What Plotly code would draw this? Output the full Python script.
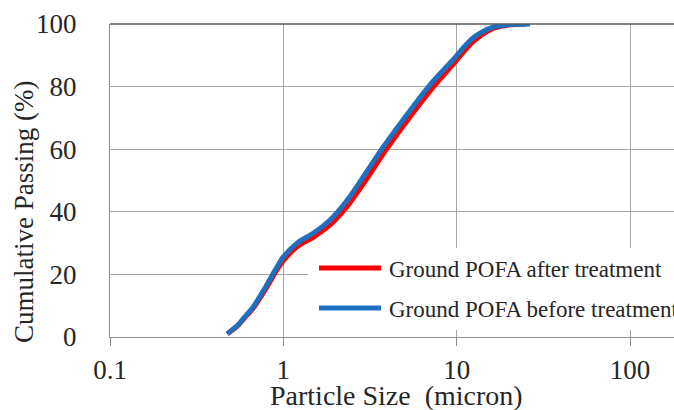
import plotly.graph_objects as go

# Particle size (micron)
size_before = [0.475, 0.55, 0.6, 0.67, 0.79, 0.92, 1.0, 1.2, 1.5, 1.86, 2.34, 3.0, 3.77, 5.0, 7.0, 9.5, 12.4, 16.2, 20.0, 26.5]
pass_before = [1.0, 4.0, 6.5, 9.6, 16.0, 22.4, 25.6, 30.0, 33.3, 37.4, 43.8, 52.5, 60.7, 70.0, 80.5, 88.5, 95.5, 99.0, 99.8, 100.0]

size_after = [0.475, 0.55, 0.6, 0.67, 0.79, 0.92, 1.0, 1.2, 1.5, 1.86, 2.34, 3.0, 3.77, 5.0, 7.0, 9.5, 12.4, 16.2, 20.0, 25.0]
pass_after = [1.0, 3.8, 6.2, 9.2, 15.3, 21.5, 24.4, 28.8, 32.0, 35.8, 41.8, 50.2, 58.5, 68.0, 78.5, 87.0, 94.3, 98.6, 99.7, 100.0]

series_names = ["Ground POFA after treatment", "Ground POFA before treatment"]

x_ticks = [0.1, 1, 10, 100]
x_tick_labels = ["0.1", "1", "10", "100"]
y_ticks = [0, 20, 40, 60, 80, 100]

FONT = "Liberation Serif"
TXT = "#262626"
RED = "#FF0000"
BLUE = "#1F6FBF"
colors = [RED, BLUE]

fig = go.Figure()
fig.add_trace(go.Scatter(
    x=size_after, y=pass_after, mode="lines",
    line=dict(color=RED, width=5, shape="spline", smoothing=0.8),
    name=series_names[0], showlegend=False))
fig.add_trace(go.Scatter(
    x=size_before, y=pass_before, mode="lines",
    line=dict(color=BLUE, width=5, shape="spline", smoothing=0.8),
    name=series_names[1], showlegend=False))

W, H = 674, 410
L, R, T, B = 110, 0, 24, 73
pw = W - L - R
ph = H - T - B
xmax = 2 + (674 - 630) / 173.5

def px(xp):
    return (xp - L) / pw

def py(yp):
    return (337 - yp) / ph

shapes = [
    dict(type="line", xref="paper", yref="paper", x0=0, x1=1, y0=1, y1=1,
         line=dict(color="#595959", width=1.5)),
    dict(type="rect", xref="paper", yref="paper",
         x0=px(308), x1=1, y0=py(330), y1=py(248),
         fillcolor="white", line=dict(width=0), layer="above"),
]
annotations = [
    dict(text="Cumulative Passing (%)", textangle=-90, xref="paper", yref="paper",
         x=px(24), y=py(212), xanchor="center", yanchor="middle",
         showarrow=False, font=dict(size=27, family=FONT, color=TXT)),
    dict(text="Particle Size  (micron)", xref="paper", yref="paper",
         x=px(396), y=py(396), xanchor="center", yanchor="middle",
         showarrow=False, font=dict(size=28, family=FONT, color=TXT)),
]

# legend (drawn as line samples + labels)
legend_rows = [268, 308]
for yy, col, name in zip(legend_rows, colors, series_names):
    shapes.append(dict(type="line", xref="paper", yref="paper",
                       x0=px(319), x1=px(381), y0=py(yy), y1=py(yy),
                       line=dict(color=col, width=5), layer="above"))
    annotations.append(dict(text=name, xref="paper", yref="paper",
                            x=px(387), y=py(yy + 1), xanchor="left", yanchor="middle",
                            showarrow=False, font=dict(size=23, family=FONT, color=TXT)))

fig.update_layout(
    width=W, height=H,
    margin=dict(l=L, r=R, t=T, b=B, autoexpand=False),
    paper_bgcolor="white", plot_bgcolor="white",
    font=dict(family=FONT, color=TXT, size=27),
    showlegend=False,
    xaxis=dict(
        type="log", range=[-1, xmax],
        tickvals=x_ticks, ticktext=x_tick_labels,
        showgrid=True, gridcolor="#A6A6A6", gridwidth=1.3,
        showline=True, linecolor="#8C8C8C", linewidth=1.3,
        ticks="outside", ticklen=8, tickcolor="#8C8C8C", tickwidth=1.3,
        tickfont=dict(size=27, family=FONT, color=TXT),
        ticklabelstandoff=0,
        zeroline=False,
    ),
    yaxis=dict(
        range=[0, 100], tickvals=y_ticks,
        showgrid=True, gridcolor="#A6A6A6", gridwidth=1.3,
        showline=True, linecolor="#8C8C8C", linewidth=1.3,
        ticks="", tickfont=dict(size=27, family=FONT, color=TXT),
        ticklabelstandoff=27,
        zeroline=False,
    ),
    shapes=shapes,
    annotations=annotations,
)

fig.write_html("out.html")
